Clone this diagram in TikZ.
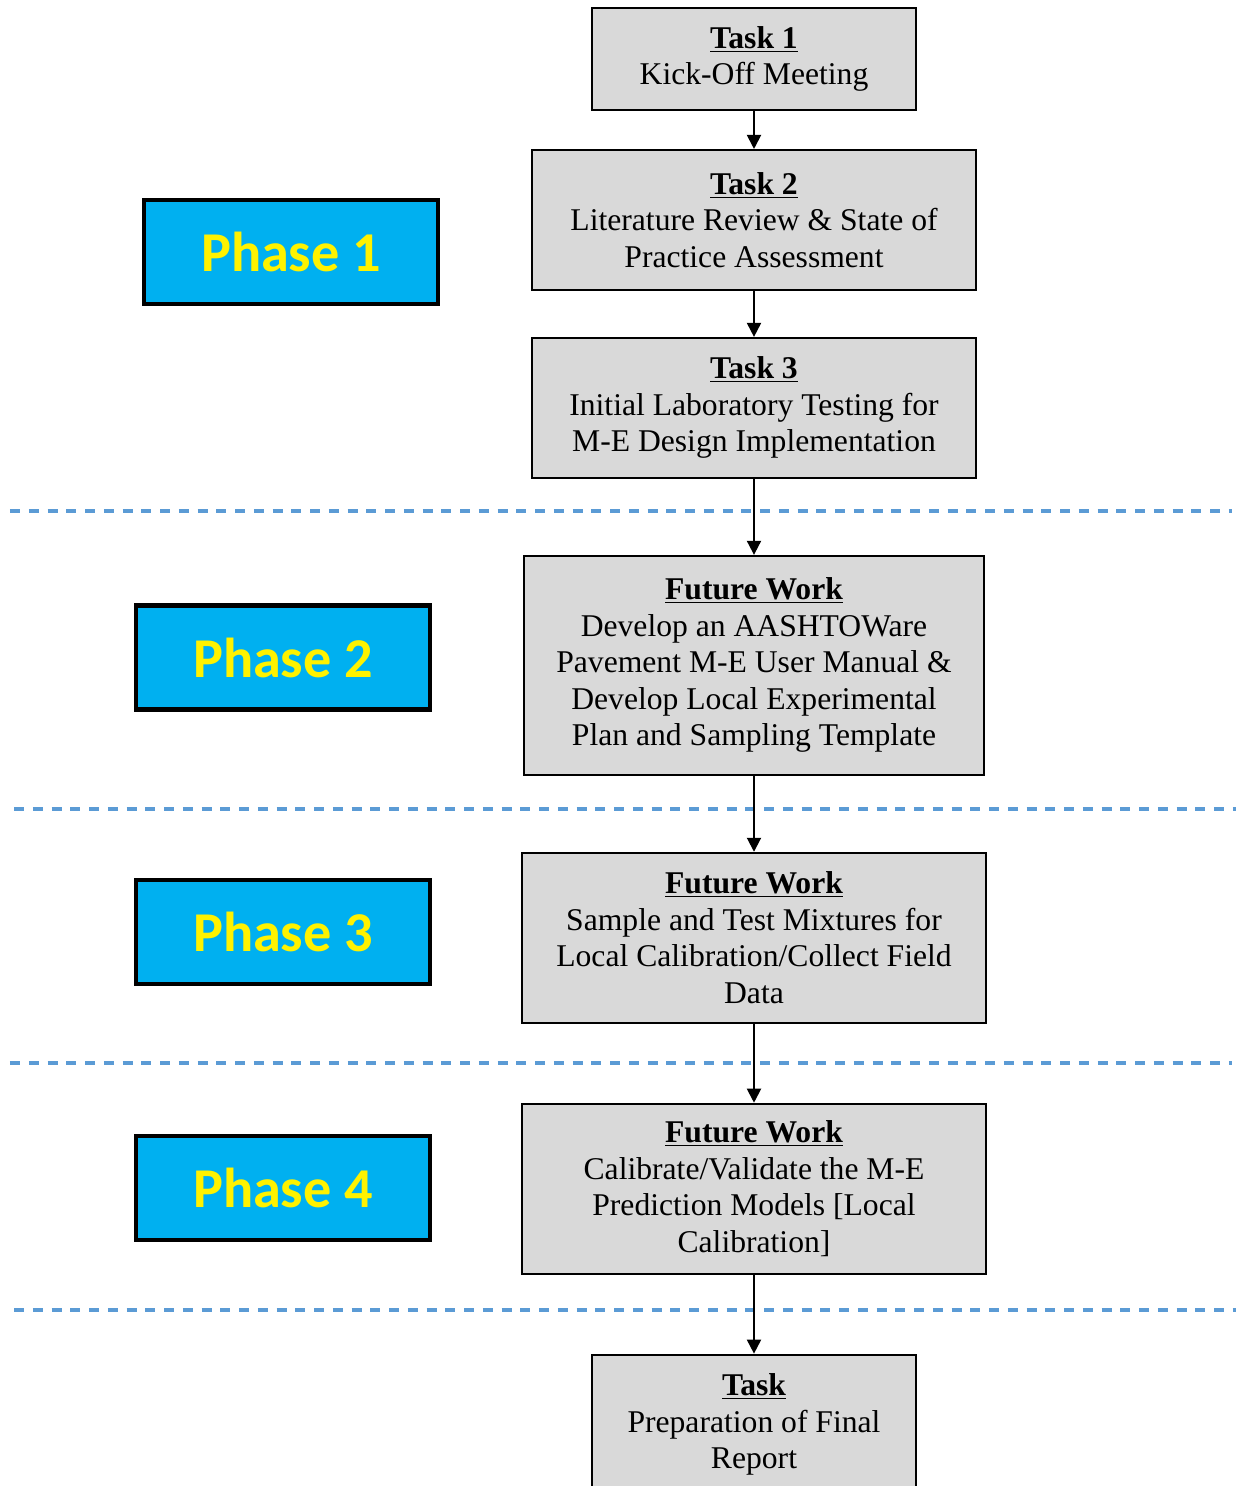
\documentclass[tikz,border=0pt]{standalone}
\usepackage{fontspec}
\setmainfont{Liberation Serif}
\newfontfamily\phasefont{Carlito}
\usepackage{xcolor}
\usetikzlibrary{positioning, arrows.meta}
\definecolor{phaseblue}{HTML}{00B0F0}
\definecolor{taskgray}{HTML}{D9D9D9}
\definecolor{sepblue}{HTML}{5B9BD5}

\begin{document}
\begin{tikzpicture}[
            >={Triangle[length=0.28cm, width=0.28cm]},
            box/.style={rectangle, draw, line width=1.1pt, fill=taskgray, align=center,
                    inner sep=2pt, font=\fontsize{18}{20.8}\selectfont},
            tbox/.style={box, minimum width=6.48cm},
            mbox/.style={box, minimum width=8.88cm, minimum height=2.8cm},
            wbox/.style={box, minimum width=9.28cm, minimum height=3.4cm},
            phase/.style={rectangle, draw, line width=2.3pt, fill=phaseblue, text=yellow,
                    minimum width=5.88cm, minimum height=2.08cm,
                    font=\phasefont\bfseries\fontsize{32}{38}\selectfont},
            arrow/.style={->, line width=1.1pt},
            sep/.style={sepblue, line width=1.9pt, dash pattern=on 0.2cm off 0.175cm},
            ]
            \useasboundingbox (0,0) rectangle (24.76,-29.72);

            % phase separators
            \draw[sep] (0.2,-10.22) -- (24.64,-10.22);
            \draw[sep] (0.28,-16.18) -- (24.72,-16.18);
            \draw[sep] (0.2,-21.26) -- (24.64,-21.26);
            \draw[sep] (0.28,-26.2) -- (24.72,-26.2);

            % tasks
            \node[tbox, minimum height=2.04cm] (task1) at (15.08,-1.18) {\underline{\textbf{Task 1}}\\Kick-Off Meeting};
            \node[mbox, below=0.76cm of task1] (task2) {\underline{\textbf{Task 2}}\\Literature Review \& State of\\Practice Assessment};
            \node[mbox, below=0.92cm of task2] (task3) {\underline{\textbf{Task 3}}\\Initial Laboratory Testing for\\M-E Design Implementation};
            \node[box, minimum width=9.2cm, minimum height=4.38cm, below=1.52cm of task3] (future1) {\underline{\textbf{Future Work}}\\Develop an AASHTOWare\\Pavement M-E User Manual \&\\Develop Local Experimental\\Plan and Sampling Template};
            \node[wbox, below=1.52cm of future1] (future2) {\underline{\textbf{Future Work}}\\Sample and Test Mixtures for\\Local Calibration/Collect Field\\Data};
            \node[wbox, below=1.58cm of future2] (future3) {\underline{\textbf{Future Work}}\\Calibrate/Validate the M-E\\Prediction Models [Local\\Calibration]};
            \node[tbox, minimum height=2.8cm, below=1.58cm of future3] (final) {\underline{\textbf{Task}}\\Preparation of Final\\Report};

            \draw[arrow] (task1) -- (task2);
            \draw[arrow] (task2) -- (task3);
            \draw[arrow] (task3) -- (future1);
            \draw[arrow] (future1) -- (future2);
            \draw[arrow] (future2) -- (future3);
            \draw[arrow] (future3) -- (final);

            % phases
            \node[phase] (phase1) at (5.82,-5.04) {Phase 1};
            \node[phase] (phase2) at (5.66,-13.15) {Phase 2};
            \node[phase] (phase3) at (5.66,-18.64) {Phase 3};
            \node[phase] (phase4) at (5.66,-23.76) {Phase 4};

        \end{tikzpicture}
\end{document}
